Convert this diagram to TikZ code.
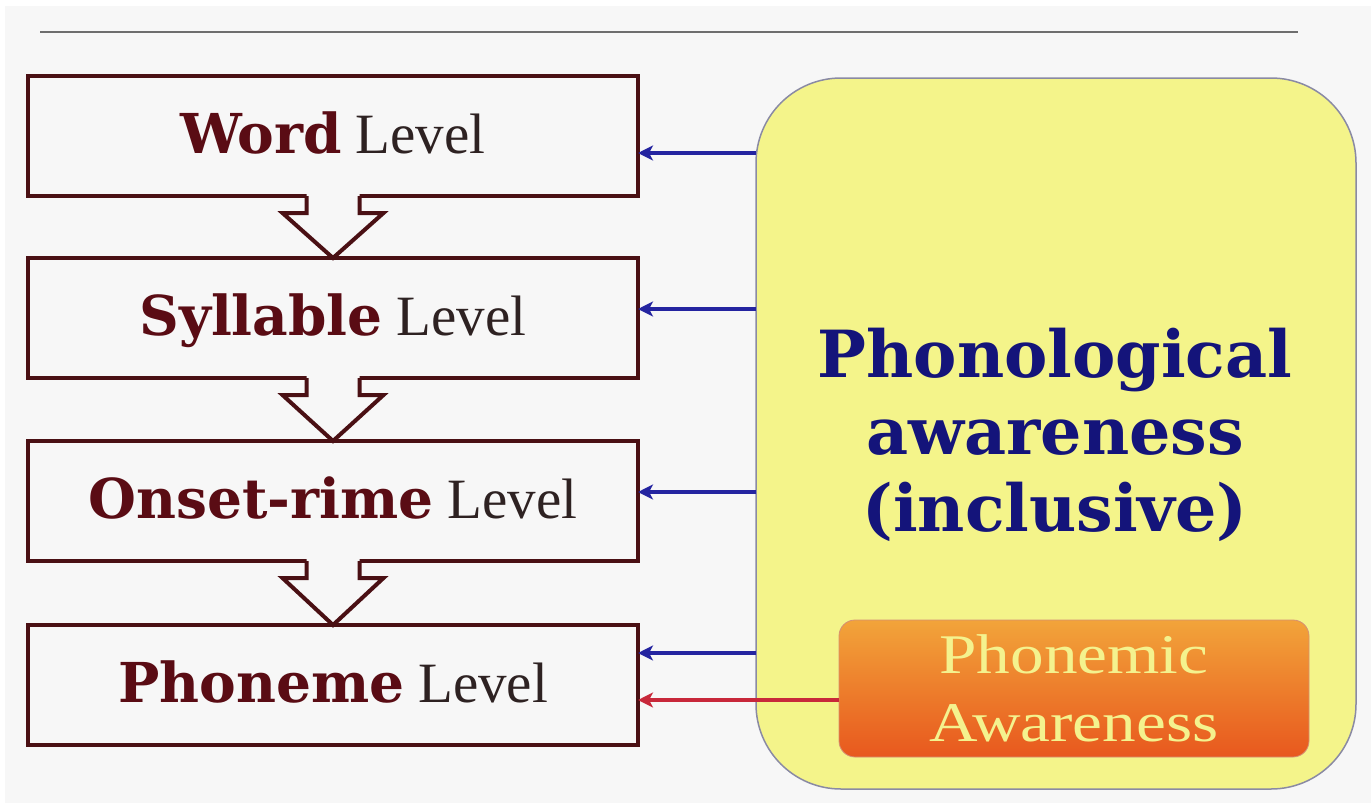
\documentclass[tikz,border=0pt]{standalone}
\usepackage{fontspec}
\setmainfont{Liberation Serif}
\newfontfamily\boldf{DejaVu Serif}
\newfontfamily\widef[FakeStretch=1.2]{Liberation Serif}
\usetikzlibrary{arrows.meta,calc}
\definecolor{bg}{HTML}{F7F7F7}
\definecolor{boxred}{HTML}{4A1014}
\definecolor{wordred}{HTML}{5A0C14}
\definecolor{levelgray}{HTML}{2E2222}
\definecolor{arrblue}{HTML}{2424A0}
\definecolor{arrred}{HTML}{C8283A}
\definecolor{yel}{HTML}{F4F48A}
\definecolor{yelborder}{HTML}{8A8AA4}
\definecolor{patxt}{HTML}{14147A}
\definecolor{ortop}{HTML}{F2A43A}
\definecolor{orbot}{HTML}{E8581E}
\definecolor{ortxt}{HTML}{F4F28E}
\definecolor{topline}{HTML}{6E6E6E}
\newcommand\lvltext[1]{{\fontsize{55}{60}\selectfont\boldf\bfseries\color{wordred}#1}\hspace{14pt}{\fontsize{57}{60}\selectfont\color{levelgray}Level}}
\begin{document}
\begin{tikzpicture}[x=1pt,y=-1pt,
  lvlbox/.style={draw=boxred, line width=4pt, minimum width=610pt, minimum height=120pt,
    inner sep=0pt, outer sep=0pt, fill=bg, text height=40pt, text depth=6pt},
  yellowbox/.style={draw=yelborder, line width=1.5pt, fill=yel, rounded corners=85pt,
    minimum width=600pt, minimum height=711pt, inner sep=0pt, outer sep=0pt},
  patext/.style={text=patxt, align=center, font=\fontsize{65}{77}\selectfont\boldf\bfseries, inner sep=0pt},
  pmbox/.style={rounded corners=16pt, top color=ortop, bottom color=orbot, draw=orbot!80!black!60,
    line width=0.8pt, minimum width=470pt, minimum height=137pt, inner sep=0pt, outer sep=0pt,
    text=ortxt, align=center, font=\widef\fontsize{56}{68}\selectfont},
  bluearr/.style={draw=arrblue, line width=3.5pt, -{Stealth[length=15pt,width=15pt,inset=4pt]}},
  redarr/.style={draw=arrred, line width=3.5pt, -{Stealth[length=15pt,width=15pt,inset=4pt]}},
  blockline/.style={draw=boxred, line width=4pt, line join=miter}
]
\useasboundingbox (0,0) rectangle (1371,803);
\fill[white] (0,0) rectangle (1371,803);
\fill[bg] (5,6) rectangle (1371,803);
% top rule
\coordinate (tl) at (40,32);
\coordinate (tr) at (1298,32);
\draw[topline, line width=2.5pt] (tl) -- (tr);
% level boxes
\node[lvlbox] (w1) at (333,136) {\lvltext{Word}};
\node[lvlbox] (w2) at (333,318) {\lvltext{Syllable}};
\node[lvlbox] (w3) at (333,501) {\lvltext{Onset-rime}};
\node[lvlbox] (w4) at (333,685) {\lvltext{Phoneme}};
% block arrows
\foreach \a/\b in {w1/w2,w2/w3,w3/w4}{
  \fill[bg] ($(\a.south)+(-26.5,-3)$) -- ($(\a.south)+(-26.5,17)$) -- ($(\a.south)+(-50.5,17)$)
     -- (\b.north) -- ($(\a.south)+(50.5,17)$) -- ($(\a.south)+(26.5,17)$) -- ($(\a.south)+(26.5,-3)$) -- cycle;
  \draw[blockline] ($(\a.south)+(-26.5,0)$) -- ($(\a.south)+(-26.5,17)$) -- ($(\a.south)+(-50.5,17)$)
     -- (\b.north) -- ($(\a.south)+(50.5,17)$) -- ($(\a.south)+(26.5,17)$) -- ($(\a.south)+(26.5,0)$);
}
% yellow box
\node[yellowbox] (pa) at (1056,433.5) {};
\node[patext] (pat) at (1055,435) {Phonological\\awareness\\(inclusive)};
% phonemic awareness box
\node[pmbox] (pm) at (1074,688.5) {Phonemic\\Awareness};
% connectors
\coordinate (s1) at (756,153);
\coordinate (s2) at (756,309);
\coordinate (s3) at (756,492);
\coordinate (s4) at (756,653);
\coordinate (s5) at ($(pm.west)+(0,11.5)$);
\draw[bluearr] (s1) -- (s1 -| w1.east);
\draw[bluearr] (s2) -- (s2 -| w2.east);
\draw[bluearr] (s3) -- (s3 -| w3.east);
\draw[bluearr] (s4) -- (s4 -| w4.east);
\draw[redarr] (s5) -- (s5 -| w4.east);
\end{tikzpicture}
\end{document}
